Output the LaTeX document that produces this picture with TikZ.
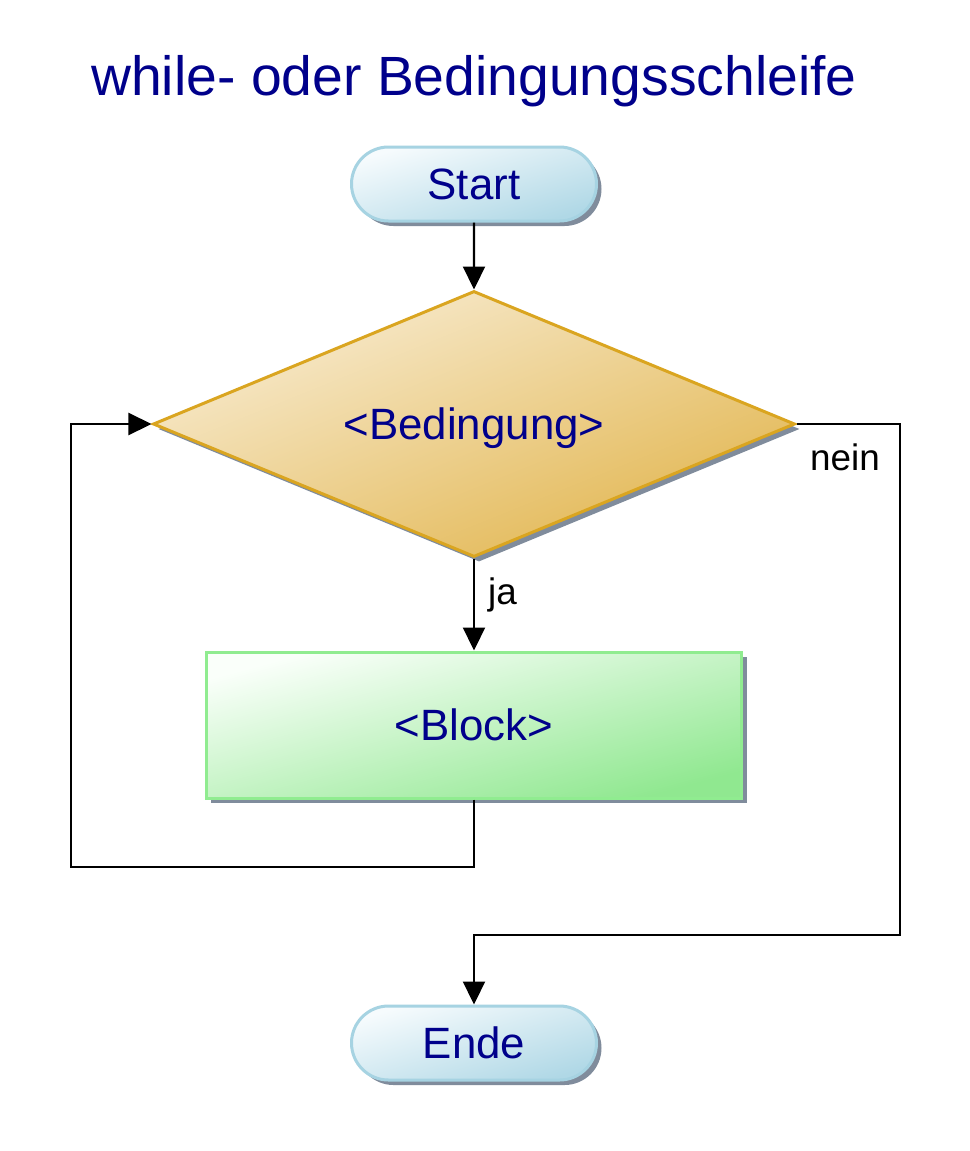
\documentclass[tikz,border=0pt]{standalone}
\usepackage{fontspec}
\setmainfont{Liberation Sans}
\usetikzlibrary{shapes.geometric,shapes.misc,arrows.meta,shadows}
\definecolor{txtblue}{RGB}{0,0,139}
\definecolor{termborder}{RGB}{166,211,226}
\definecolor{termlight}{RGB}{246,251,253}
\definecolor{termdark}{RGB}{176,216,230}
\definecolor{decborder}{RGB}{218,165,32}
\definecolor{declight}{RGB}{248,236,210}
\definecolor{decdark}{RGB}{226,182,80}
\definecolor{procborder}{RGB}{144,236,144}
\definecolor{proclight}{RGB}{250,255,250}
\definecolor{procdark}{RGB}{144,232,144}
\definecolor{shadowcol}{RGB}{128,140,156}
\tikzset{
  shadowed/.style={drop shadow={shadow xshift=5bp, shadow yshift=-5bp, fill=shadowcol, opacity=1}},
  boxtext/.style={font=\fontsize{44}{50}\selectfont, text=txtblue, text height=31.5bp, text depth=0pt},
  termnode/.style={rounded rectangle, draw=termborder, line width=3bp, minimum width=245bp, minimum height=74bp, inner sep=0pt,
    shading=axis, top color=termlight, bottom color=termdark, shading angle=17, shadowed, boxtext},
  decnode/.style={diamond, aspect=2.41, draw=decborder, line width=3bp, minimum width=642bp, minimum height=266bp, inner sep=0pt,
    shading=axis, top color=declight, bottom color=decdark, shading angle=22, shadowed, boxtext},
  procnode/.style={rectangle, draw=procborder, line width=3bp, minimum width=535bp, minimum height=146bp, inner sep=0pt,
    shading=axis, top color=proclight, bottom color=procdark, shading angle=15, shadowed, boxtext},
  arr/.style={line width=2.2bp, -{Triangle[length=23bp,width=22bp]}},
  lbl/.style={font=\fontsize{37}{42}\selectfont, text=black, inner sep=0pt},
  titlenode/.style={font=\fontsize{55.5}{60}\selectfont, text=txtblue, inner sep=0pt}
}
\begin{document}
\begin{tikzpicture}[x=1bp,y=-1bp]
\fill[white] (0,0) rectangle (970,1151);
\useasboundingbox (0,0) rectangle (970,1151);

\node[titlenode, anchor=base] (title) at (474,95) {while- oder Bedingungsschleife};

\node[termnode] (start) at (474,184) {Start};
\node[decnode] (cond) at (474,424) {<Bedingung>};
\node[procnode] (block) at (474,725) {<Block>};
\node[termnode] (ende) at (474,1043) {Ende};

\coordinate (loopL) at (71,867);
\coordinate (neinR) at (900,935);

\draw[arr] (start) -- (cond);
\draw[arr] (cond) -- (block);
\draw[arr] (block.south) |- (loopL) |- (cond.west);
\draw[arr] (cond.east) -| (neinR) -| (ende.north);

\node[lbl, anchor=base west] (ja) at (488,604) {ja};
\node[lbl, anchor=base west] (nein) at (810,470) {nein};
\end{tikzpicture}
\end{document}
